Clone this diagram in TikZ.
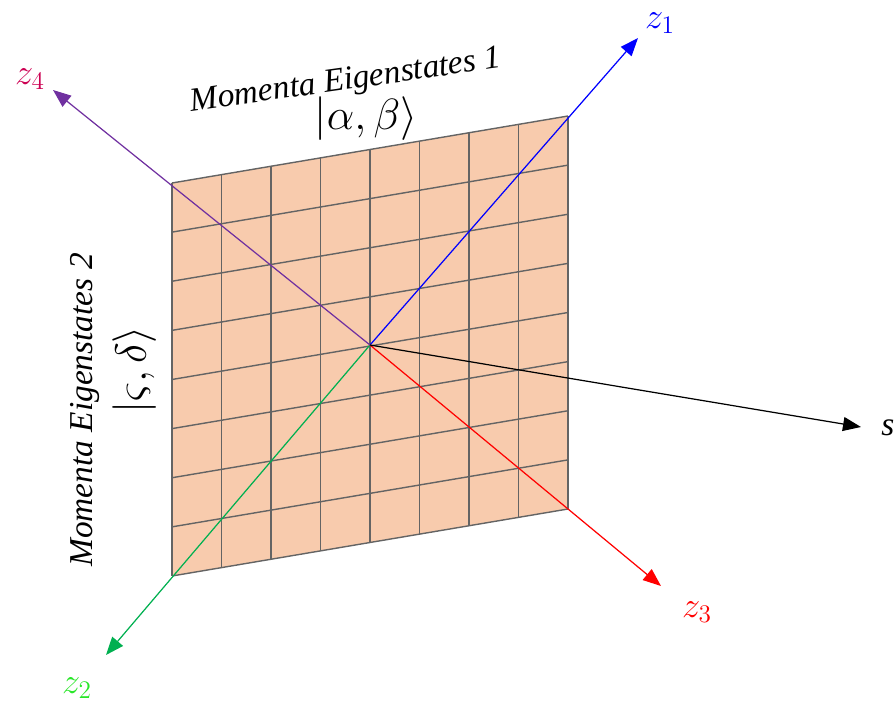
\documentclass[tikz,border=0pt]{standalone}
\usepackage{amsmath,amssymb}
\usepackage{fontspec}
\setmainfont{Liberation Serif}
\newfontfamily\timesit{Liberation Serif Italic}
\usepackage{tikz}
\usetikzlibrary{arrows.meta,calc}

\definecolor{peach}{RGB}{248,203,173}
\definecolor{gridgray}{RGB}{100,100,100}
\definecolor{zpurple}{RGB}{112,48,160}
\definecolor{zcrimson}{RGB}{204,0,82}
\definecolor{zgreen}{RGB}{0,176,80}
\definecolor{zlime}{RGB}{40,230,40}

\begin{document}
\begin{tikzpicture}[
    x=0.02cm, y=-0.02cm,
    axis/.style={-{Triangle[length=0.36cm,width=0.28cm]}, line width=0.7pt},
    lbl/.style={font=\fontsize{20}{24}\selectfont, inner sep=0pt},
    ket/.style={font=\fontsize{25}{29}\selectfont, inner sep=0pt},
    txt/.style={font=\fontsize{19}{23}\timesit, inner sep=0pt}
]
\useasboundingbox (0,0) rectangle (894,703);

% plane
\coordinate (tl) at (172,183);
\coordinate (tr) at (568,116);
\coordinate (br) at (568,509);
\coordinate (bl) at (172,576);
\fill[peach] (tl) -- (tr) -- (br) -- (bl) -- cycle;
\foreach \i in {0,...,8}{
    \draw[gridgray, line width=0.8pt] ($(tl)!\i/8!(tr)$) -- ($(bl)!\i/8!(br)$);
    \draw[gridgray, line width=0.8pt] ($(tl)!\i/8!(bl)$) -- ($(tr)!\i/8!(br)$);
}

% axes
\coordinate (o) at (370,345);
\coordinate (e1) at (638,38);
\coordinate (e2) at (106,655);
\coordinate (e3) at (661,586);
\coordinate (e4) at (53,90);
\coordinate (es) at (861,427);
\draw[axis, blue] (o) -- (e1);
\draw[axis, zgreen] (o) -- (e2);
\draw[axis, red] (o) -- (e3);
\draw[axis, zpurple] (o) -- (e4);
\draw[axis, black] (o) -- (es);

\node[lbl, blue] (z1) at (660,23) {$z_1$};
\node[lbl, zlime] (z2) at (77,688) {$z_2$};
\node[lbl, red] (z3) at (697,612) {$z_3$};
\node[lbl, zcrimson] (z4) at (30,79) {$z_4$};
\node[txt, anchor=west] (s) at (881,428) {s};

% labels
\node[txt, rotate=8] (me1) at (346,82) {Momenta Eigenstates 1};
\node[ket] (ab) at (366,119) {$|\alpha,\beta\rangle$};
\node[txt, rotate=90] (me2) at (85,410) {Momenta Eigenstates 2};
\node[ket, rotate=90] (cd) at (135,370) {$|\varsigma,\delta\rangle$};
\end{tikzpicture}
\end{document}
